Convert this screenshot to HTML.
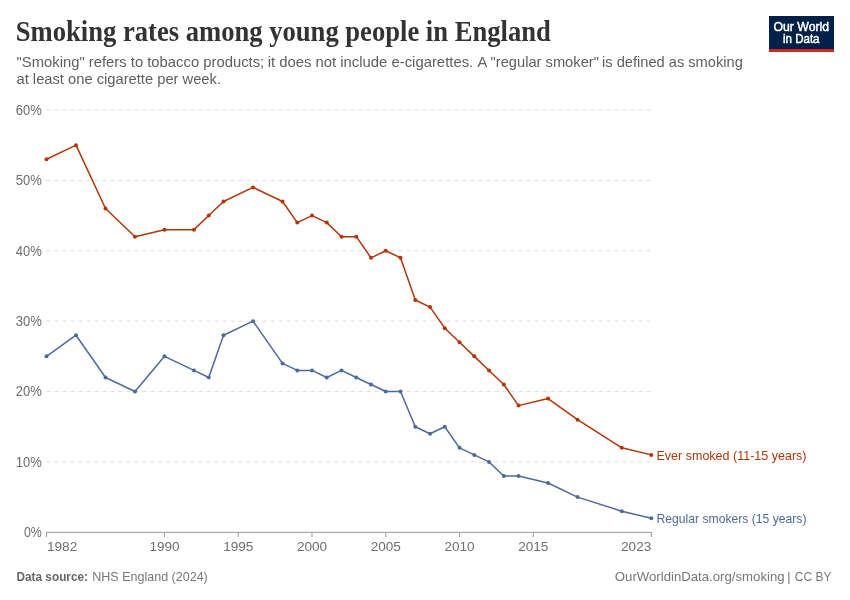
<!DOCTYPE html>
<html><head><meta charset="utf-8"><style>
html,body{margin:0;padding:0;background:#fff;width:850px;height:600px;overflow:hidden}
svg{display:block;will-change:transform}
text{font-family:"Liberation Sans",sans-serif}
.ax{font-size:13.6px;fill:#6e6e6e}
</style></head><body>
<svg width="850" height="600" viewBox="0 0 850 600">
<rect width="850" height="600" fill="#fff"/>
<text x="15.8" y="40.8" style="font-family:'Liberation Serif',serif;font-weight:bold;font-size:28.5px" fill="#333" textLength="535" lengthAdjust="spacingAndGlyphs">Smoking rates among young people in England</text>
<g style="font-size:15px" fill="#5e5e5e">
<text x="16.5" y="66.8" textLength="247.7" lengthAdjust="spacingAndGlyphs">"Smoking" refers to tobacco products;</text>
<text x="267.7" y="66.8" textLength="205.5" lengthAdjust="spacingAndGlyphs">it does not include e-cigarettes.</text>
<text x="477.5" y="66.8" textLength="121.4" lengthAdjust="spacingAndGlyphs">A "regular smoker"</text>
<text x="602" y="66.8" textLength="140.8" lengthAdjust="spacingAndGlyphs">is defined as smoking</text>
<text x="16.5" y="84.3" textLength="204.5" lengthAdjust="spacingAndGlyphs">at least one cigarette per week.</text>
</g>
<rect x="769" y="16" width="65" height="33" fill="#002147"/>
<rect x="769" y="49" width="65" height="3" fill="#ce261e"/>
<text x="773.5" y="30.8" style="font-size:12.2px" fill="#fff" stroke="#fff" stroke-width="0.45" textLength="55.6" lengthAdjust="spacingAndGlyphs">Our World</text>
<text x="783" y="42.7" style="font-size:12.2px" fill="#fff" stroke="#fff" stroke-width="0.45" textLength="36.5" lengthAdjust="spacingAndGlyphs">in Data</text>
<line x1="46.5" x2="651.3" y1="461.9" y2="461.9" stroke="#ddd" stroke-width="1" stroke-dasharray="4,4"/><line x1="46.5" x2="651.3" y1="391.5" y2="391.5" stroke="#ddd" stroke-width="1" stroke-dasharray="4,4"/><line x1="46.5" x2="651.3" y1="321.1" y2="321.1" stroke="#ddd" stroke-width="1" stroke-dasharray="4,4"/><line x1="46.5" x2="651.3" y1="250.8" y2="250.8" stroke="#ddd" stroke-width="1" stroke-dasharray="4,4"/><line x1="46.5" x2="651.3" y1="180.4" y2="180.4" stroke="#ddd" stroke-width="1" stroke-dasharray="4,4"/><line x1="46.5" x2="651.3" y1="110.0" y2="110.0" stroke="#ddd" stroke-width="1" stroke-dasharray="4,4"/>
<line x1="46.5" x2="651.3" y1="532.3" y2="532.3" stroke="#999" stroke-width="1"/>
<line x1="46.5" x2="46.5" y1="532.3" y2="537" stroke="#999" stroke-width="1"/><text x="47.0" y="550.5" class="ax">1982</text><line x1="164.5" x2="164.5" y1="532.3" y2="537" stroke="#999" stroke-width="1"/><text x="164.5" y="550.5" text-anchor="middle" class="ax">1990</text><line x1="238.3" x2="238.3" y1="532.3" y2="537" stroke="#999" stroke-width="1"/><text x="238.3" y="550.5" text-anchor="middle" class="ax">1995</text><line x1="312.0" x2="312.0" y1="532.3" y2="537" stroke="#999" stroke-width="1"/><text x="312.0" y="550.5" text-anchor="middle" class="ax">2000</text><line x1="385.8" x2="385.8" y1="532.3" y2="537" stroke="#999" stroke-width="1"/><text x="385.8" y="550.5" text-anchor="middle" class="ax">2005</text><line x1="459.5" x2="459.5" y1="532.3" y2="537" stroke="#999" stroke-width="1"/><text x="459.5" y="550.5" text-anchor="middle" class="ax">2010</text><line x1="533.3" x2="533.3" y1="532.3" y2="537" stroke="#999" stroke-width="1"/><text x="533.3" y="550.5" text-anchor="middle" class="ax">2015</text><line x1="651.3" x2="651.3" y1="532.3" y2="537" stroke="#999" stroke-width="1"/><text x="651.3" y="550.5" text-anchor="end" class="ax">2023</text>
<text x="41.8" y="537.1" text-anchor="end" class="ax" style="font-size:14px" textLength="17.81" lengthAdjust="spacingAndGlyphs">0%</text><text x="41.8" y="466.7" text-anchor="end" class="ax" style="font-size:14px" textLength="26.06" lengthAdjust="spacingAndGlyphs">10%</text><text x="41.8" y="396.3" text-anchor="end" class="ax" style="font-size:14px" textLength="26.06" lengthAdjust="spacingAndGlyphs">20%</text><text x="41.8" y="325.9" text-anchor="end" class="ax" style="font-size:14px" textLength="26.06" lengthAdjust="spacingAndGlyphs">30%</text><text x="41.8" y="255.6" text-anchor="end" class="ax" style="font-size:14px" textLength="26.06" lengthAdjust="spacingAndGlyphs">40%</text><text x="41.8" y="185.2" text-anchor="end" class="ax" style="font-size:14px" textLength="26.06" lengthAdjust="spacingAndGlyphs">50%</text><text x="41.8" y="114.8" text-anchor="end" class="ax" style="font-size:14px" textLength="26.06" lengthAdjust="spacingAndGlyphs">60%</text>
<polyline points="46.50,159.27 76.00,145.19 105.50,208.54 135.01,236.69 164.51,229.65 194.01,229.65 208.76,215.57 223.51,201.50 253.02,187.42 282.52,201.50 297.27,222.61 312.02,215.57 326.77,222.61 341.52,236.69 356.28,236.69 371.03,257.81 385.78,250.77 400.53,257.81 415.28,300.03 430.03,307.07 444.78,328.19 459.53,342.26 474.29,356.34 489.04,370.42 503.79,384.50 518.54,405.61 548.04,398.57 577.54,419.69 621.80,447.84 651.30,454.88" fill="none" stroke="#b13507" stroke-width="1.5" stroke-linejoin="round"/><circle cx="46.50" cy="159.27" r="2" fill="#b13507"/><circle cx="76.00" cy="145.19" r="2" fill="#b13507"/><circle cx="105.50" cy="208.54" r="2" fill="#b13507"/><circle cx="135.01" cy="236.69" r="2" fill="#b13507"/><circle cx="164.51" cy="229.65" r="2" fill="#b13507"/><circle cx="194.01" cy="229.65" r="2" fill="#b13507"/><circle cx="208.76" cy="215.57" r="2" fill="#b13507"/><circle cx="223.51" cy="201.50" r="2" fill="#b13507"/><circle cx="253.02" cy="187.42" r="2" fill="#b13507"/><circle cx="282.52" cy="201.50" r="2" fill="#b13507"/><circle cx="297.27" cy="222.61" r="2" fill="#b13507"/><circle cx="312.02" cy="215.57" r="2" fill="#b13507"/><circle cx="326.77" cy="222.61" r="2" fill="#b13507"/><circle cx="341.52" cy="236.69" r="2" fill="#b13507"/><circle cx="356.28" cy="236.69" r="2" fill="#b13507"/><circle cx="371.03" cy="257.81" r="2" fill="#b13507"/><circle cx="385.78" cy="250.77" r="2" fill="#b13507"/><circle cx="400.53" cy="257.81" r="2" fill="#b13507"/><circle cx="415.28" cy="300.03" r="2" fill="#b13507"/><circle cx="430.03" cy="307.07" r="2" fill="#b13507"/><circle cx="444.78" cy="328.19" r="2" fill="#b13507"/><circle cx="459.53" cy="342.26" r="2" fill="#b13507"/><circle cx="474.29" cy="356.34" r="2" fill="#b13507"/><circle cx="489.04" cy="370.42" r="2" fill="#b13507"/><circle cx="503.79" cy="384.50" r="2" fill="#b13507"/><circle cx="518.54" cy="405.61" r="2" fill="#b13507"/><circle cx="548.04" cy="398.57" r="2" fill="#b13507"/><circle cx="577.54" cy="419.69" r="2" fill="#b13507"/><circle cx="621.80" cy="447.84" r="2" fill="#b13507"/><circle cx="651.30" cy="454.88" r="2" fill="#b13507"/>
<polyline points="46.50,356.34 76.00,335.23 105.50,377.46 135.01,391.53 164.51,356.34 194.01,370.42 208.76,377.46 223.51,335.23 253.02,321.15 282.52,363.38 297.27,370.42 312.02,370.42 326.77,377.46 341.52,370.42 356.28,377.46 371.03,384.50 385.78,391.53 400.53,391.53 415.28,426.72 430.03,433.76 444.78,426.72 459.53,447.84 474.29,454.88 489.04,461.92 503.79,475.99 518.54,475.99 548.04,483.03 577.54,497.11 621.80,511.18 651.30,518.22" fill="none" stroke="#4c6a9c" stroke-width="1.5" stroke-linejoin="round"/><circle cx="46.50" cy="356.34" r="2" fill="#4c6a9c"/><circle cx="76.00" cy="335.23" r="2" fill="#4c6a9c"/><circle cx="105.50" cy="377.46" r="2" fill="#4c6a9c"/><circle cx="135.01" cy="391.53" r="2" fill="#4c6a9c"/><circle cx="164.51" cy="356.34" r="2" fill="#4c6a9c"/><circle cx="194.01" cy="370.42" r="2" fill="#4c6a9c"/><circle cx="208.76" cy="377.46" r="2" fill="#4c6a9c"/><circle cx="223.51" cy="335.23" r="2" fill="#4c6a9c"/><circle cx="253.02" cy="321.15" r="2" fill="#4c6a9c"/><circle cx="282.52" cy="363.38" r="2" fill="#4c6a9c"/><circle cx="297.27" cy="370.42" r="2" fill="#4c6a9c"/><circle cx="312.02" cy="370.42" r="2" fill="#4c6a9c"/><circle cx="326.77" cy="377.46" r="2" fill="#4c6a9c"/><circle cx="341.52" cy="370.42" r="2" fill="#4c6a9c"/><circle cx="356.28" cy="377.46" r="2" fill="#4c6a9c"/><circle cx="371.03" cy="384.50" r="2" fill="#4c6a9c"/><circle cx="385.78" cy="391.53" r="2" fill="#4c6a9c"/><circle cx="400.53" cy="391.53" r="2" fill="#4c6a9c"/><circle cx="415.28" cy="426.72" r="2" fill="#4c6a9c"/><circle cx="430.03" cy="433.76" r="2" fill="#4c6a9c"/><circle cx="444.78" cy="426.72" r="2" fill="#4c6a9c"/><circle cx="459.53" cy="447.84" r="2" fill="#4c6a9c"/><circle cx="474.29" cy="454.88" r="2" fill="#4c6a9c"/><circle cx="489.04" cy="461.92" r="2" fill="#4c6a9c"/><circle cx="503.79" cy="475.99" r="2" fill="#4c6a9c"/><circle cx="518.54" cy="475.99" r="2" fill="#4c6a9c"/><circle cx="548.04" cy="483.03" r="2" fill="#4c6a9c"/><circle cx="577.54" cy="497.11" r="2" fill="#4c6a9c"/><circle cx="621.80" cy="511.18" r="2" fill="#4c6a9c"/><circle cx="651.30" cy="518.22" r="2" fill="#4c6a9c"/>
<text x="656.5" y="460.1" style="font-size:13.3px" fill="#b13507" textLength="150" lengthAdjust="spacingAndGlyphs">Ever smoked (11-15 years)</text>
<text x="656.5" y="523" style="font-size:13.3px" fill="#4c6a9c" textLength="150" lengthAdjust="spacingAndGlyphs">Regular smokers (15 years)</text>
<text x="16.5" y="581" style="font-size:12.8px;font-weight:bold" fill="#666" textLength="71.5" lengthAdjust="spacingAndGlyphs">Data source:</text>
<text x="92.3" y="581" style="font-size:12.8px" fill="#777" textLength="115.5" lengthAdjust="spacingAndGlyphs">NHS England (2024)</text>
<text x="614.8" y="581" style="font-size:12.8px" fill="#777" textLength="169.8" lengthAdjust="spacingAndGlyphs">OurWorldinData.org/smoking</text>
<text x="787.2" y="581" style="font-size:12.8px" fill="#777">|</text>
<text x="794.8" y="581" style="font-size:12.8px" fill="#777" textLength="36.6" lengthAdjust="spacingAndGlyphs">CC BY</text>
</svg>
</body></html>
